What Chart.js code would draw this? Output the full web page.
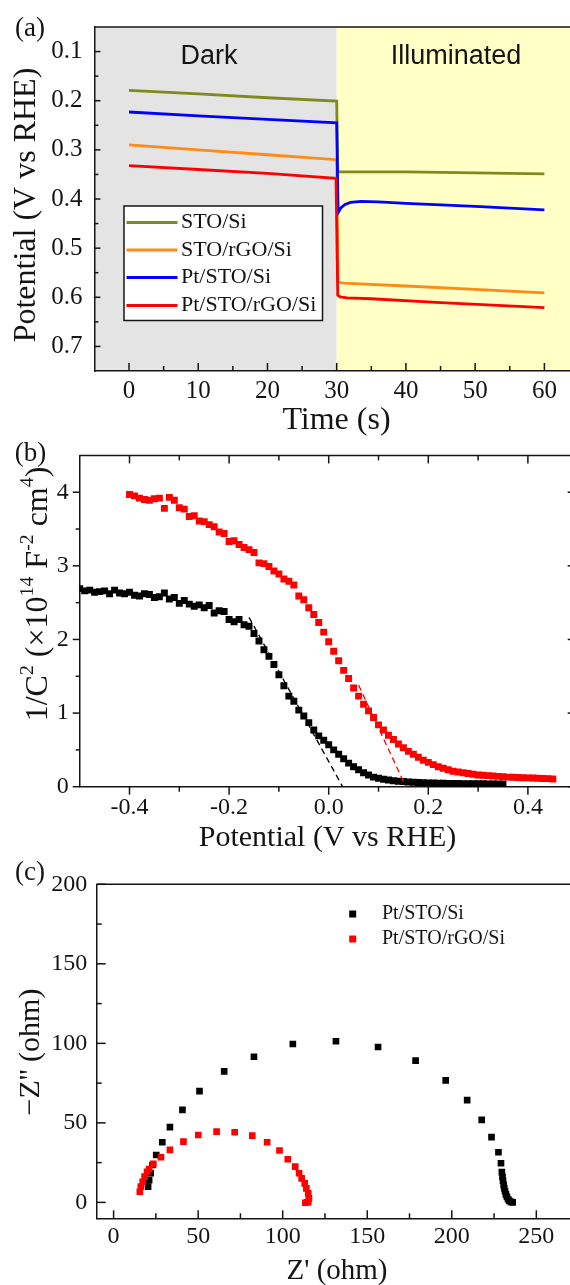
<!DOCTYPE html>
<html>
<head>
<meta charset="utf-8">
<title>Photo-potential, Mott-Schottky and Nyquist plots</title>
<script src="https://cdn.jsdelivr.net/npm/chart.js@4.4.1/dist/chart.umd.min.js"></script>
<style>
  html, body { margin: 0; padding: 0; background: #fff; width: 570px; height: 1285px; overflow: hidden; }
  .panel { position: absolute; left: 0; width: 600px; }
  #pa { top: 0; height: 445px; }
  #pb { top: 430px; height: 435px; }
  #pc { top: 850px; height: 435px; }
</style>
</head>
<body>
<div class="panel" id="pa"><canvas id="chartA"></canvas></div>
<div class="panel" id="pb"><canvas id="chartB"></canvas></div>
<div class="panel" id="pc"><canvas id="chartC"></canvas></div>
<script>
// ---- (a) open-circuit potential, dark (0-30 s) then illuminated ----
const stoSiTime = [0, 10, 20, 30.0, 30.15, 31, 40, 50, 60];
const stoSiPot = [0.179, 0.186, 0.194, 0.201, 0.345, 0.345, 0.345, 0.347, 0.349];
const stoRgoTime = [0, 10, 20, 30.0, 30.2, 31, 40, 50, 60];
const stoRgoPot = [0.290, 0.300, 0.310, 0.320, 0.569, 0.571, 0.577, 0.584, 0.591];
const ptStoTime = [0, 10, 20, 30.0, 30.2, 30.6, 31.2, 32, 33.5, 36, 40, 50, 60];
const ptStoPot = [0.223, 0.231, 0.238, 0.245, 0.428, 0.418, 0.411, 0.407, 0.405, 0.406, 0.409, 0.415, 0.422];
const ptStoRgoTime = [0, 10, 20, 29.9, 30.15, 30.5, 31.5, 35, 45, 60];
const ptStoRgoPot = [0.332, 0.340, 0.348, 0.358, 0.596, 0.599, 0.601, 0.603, 0.611, 0.621];
const timeTicks = [0, 10, 20, 30, 40, 50, 60];
const timeLabels = ['0', '10', '20', '30', '40', '50', '60'];
const potTicks = [0.1, 0.2, 0.3, 0.4, 0.5, 0.6, 0.7];
const potLabels = ['0.1', '0.2', '0.3', '0.4', '0.5', '0.6', '0.7'];
const seriesNamesA = ['STO/Si', 'STO/rGO/Si', 'Pt/STO/Si', 'Pt/STO/rGO/Si'];

// ---- (b) Mott-Schottky ----
const msBlackPot = [-0.50,-0.49,-0.48,-0.47,-0.46,-0.45,-0.44,-0.43,-0.42,-0.41,
  -0.40,-0.39,-0.38,-0.37,-0.36,-0.35,-0.34,-0.33,-0.32,-0.31,
  -0.30,-0.29,-0.28,-0.27,-0.26,-0.25,-0.24,-0.23,-0.22,-0.21,
  -0.20,-0.19,-0.18,-0.17,-0.16,-0.15,-0.14,-0.13,-0.12,-0.11,
  -0.10,-0.09,-0.08,-0.07,-0.06,-0.05,-0.04,-0.03,-0.02,-0.01,
  0.00,0.01,0.02,0.03,0.04,0.05,0.06,0.07,0.08,0.09,
  0.10,0.11,0.12,0.13,0.14,0.15,0.16,0.17,0.18,0.19,
  0.20,0.21,0.22,0.23,0.24,0.25,0.26,0.27,0.28,0.29,
  0.30,0.31,0.32,0.33,0.34,0.35];
const msBlackVal = [2.69,2.66,2.67,2.64,2.65,2.66,2.62,2.67,2.63,2.62,
  2.64,2.60,2.59,2.62,2.61,2.57,2.58,2.63,2.55,2.57,
  2.49,2.53,2.48,2.45,2.47,2.43,2.46,2.36,2.39,2.38,
  2.27,2.24,2.27,2.20,2.18,2.08,1.98,1.86,1.77,1.66,
  1.52,1.37,1.23,1.16,1.04,0.96,0.87,0.77,0.69,0.63,
  0.57,0.50,0.44,0.38,0.32,0.27,0.23,0.19,0.16,0.13,
  0.115,0.10,0.09,0.08,0.075,0.07,0.065,0.06,0.058,0.055,
  0.052,0.05,0.048,0.046,0.045,0.044,0.043,0.042,0.041,0.04,
  0.04,0.039,0.038,0.038,0.037,0.037];
const msRedPot = [-0.40,-0.39,-0.38,-0.37,-0.36,-0.35,-0.34,-0.33,-0.32,-0.31,
  -0.30,-0.29,-0.28,-0.27,-0.26,-0.25,-0.24,-0.23,-0.22,-0.21,
  -0.20,-0.19,-0.18,-0.17,-0.16,-0.15,-0.14,-0.13,-0.12,-0.11,
  -0.10,-0.09,-0.08,-0.07,-0.06,-0.05,-0.04,-0.03,-0.02,-0.01,
  0.00,0.01,0.02,0.03,0.04,0.05,0.06,0.07,0.08,0.09,
  0.10,0.11,0.12,0.13,0.14,0.15,0.16,0.17,0.18,0.19,
  0.20,0.21,0.22,0.23,0.24,0.25,0.26,0.27,0.28,0.29,
  0.30,0.31,0.32,0.33,0.34,0.35,0.36,0.37,0.38,0.39,
  0.40,0.41,0.42,0.43,0.44,0.45];
const msRedVal = [3.97,3.95,3.92,3.90,3.89,3.91,3.92,3.78,3.93,3.89,
  3.79,3.77,3.67,3.68,3.61,3.60,3.56,3.53,3.46,3.44,
  3.33,3.34,3.29,3.25,3.22,3.18,3.04,3.03,2.99,2.93,
  2.89,2.82,2.79,2.74,2.59,2.54,2.43,2.34,2.23,2.10,
  1.97,1.84,1.71,1.58,1.47,1.34,1.23,1.12,1.03,0.94,
  0.84,0.77,0.70,0.64,0.58,0.53,0.48,0.44,0.40,0.36,
  0.33,0.30,0.27,0.25,0.23,0.21,0.20,0.19,0.18,0.17,
  0.16,0.155,0.15,0.145,0.14,0.135,0.13,0.128,0.125,0.122,
  0.12,0.117,0.115,0.112,0.11,0.105];
const fitBlackPot = [-0.16, 0.028];
const fitBlackVal = [2.30, 0];
const fitRedPot = [0.06, 0.155];
const fitRedVal = [1.38, 0];
const msPotTicks = [-0.4, -0.2, 0, 0.2, 0.4];
const msPotLabels = ['-0.4', '-0.2', '0.0', '0.2', '0.4'];
const msValTicks = [0, 1, 2, 3, 4];
const msValLabels = ['0', '1', '2', '3', '4'];

// ---- (c) Nyquist ----
const nyqBlackRe = [20.4,21.0,21.9,23.0,25.2,28.8,33.3,40.7,50.8,65.4,83.0,106.0,131.5,156.4,178.6,196.4,209.1,
  217.7,223.5,227.6,229.1,229.6,230.0,230.3,230.7,231.0,231.5,232.0,232.6,233.3,234.0,235.0,236.0];
const nyqBlackIm = [9.9,14.0,18.3,23.5,29.8,37.8,47.3,58.2,70.0,82.4,91.6,99.6,101.3,97.7,89.1,76.7,64.3,
  51.9,41.0,31.5,24.6,19.0,16.0,13.5,11.0,9.0,7.0,5.0,3.5,2.0,1.0,0.3,0.0];
const nyqRedRe = [15.5,16.1,17.2,18.3,19.8,21.0,23.5,28.0,33.3,41.3,50.1,60.9,71.6,82.0,90.8,98.1,103.0,
  107.4,109.7,111.2,113.0,114.0,115.1,115.5,115.1,114.5,113.4];
const nyqRedIm = [6.7,9.9,13.0,16.2,19.3,21.0,24.2,28.4,33.0,38.2,42.4,44.5,44.1,42.0,37.8,32.6,27.1,
  22.5,18.3,15.1,12.0,8.8,5.7,2.5,0.4,0.0,-0.2];
const reTicks = [0, 50, 100, 150, 200, 250];
const reLabels = ['0', '50', '100', '150', '200', '250'];
const imTicks = [0, 50, 100, 150, 200];
const imLabels = ['0', '50', '100', '150', '200'];
const seriesNamesBC = ['Pt/STO/Si', 'Pt/STO/rGO/Si'];

const SERIF = "'Liberation Serif', 'Times New Roman', serif";
const SANS = "'Liberation Sans', Arial, sans-serif";
const INK = '#141414';
const colorsA = ['#7e8a1c', '#ff8a16', '#0000ff', '#ff0000'];

Chart.defaults.font.family = SERIF;
Chart.defaults.color = INK;

const pts = (xs, ys) => xs.map((x, i) => ({x: x, y: ys[i]}));

function axis(min, max, vals, labels, size, pad, fit, horizontal, reverse) {
  return {
    type: 'linear', min: min, max: max, reverse: !!reverse,
    afterBuildTicks: s => { s.ticks = vals.map(v => ({value: v})); },
    afterFit: s => { if (horizontal) s.height = fit; else s.width = fit; },
    ticks: {autoSkip: false, maxRotation: 0, padding: pad, color: INK,
      font: {size: size, family: SERIF}, callback: v => labels[vals.indexOf(v)]},
    grid: {display: false, drawTicks: false},
    border: {display: true, color: INK, width: 1.5}
  };
}

function txt(ctx, s, x, y, size, family, rot, align) {
  ctx.save();
  ctx.font = size + 'px ' + (family || SERIF);
  ctx.fillStyle = INK;
  ctx.textAlign = align || 'center';
  ctx.textBaseline = 'middle';
  ctx.translate(x, y);
  if (rot) ctx.rotate(rot);
  ctx.fillText(s, 0, 0);
  ctx.restore();
}

// text with superscripts, centred on (x, y)
function richTxt(ctx, parts, x, y, size, rot) {
  ctx.save();
  ctx.translate(x, y);
  if (rot) ctx.rotate(rot);
  ctx.fillStyle = INK;
  ctx.textBaseline = 'alphabetic';
  ctx.textAlign = 'left';
  const fontOf = p => (p.sup ? size * 0.62 : size) + 'px ' + SERIF;
  const widths = parts.map(p => { ctx.font = fontOf(p); return ctx.measureText(p.t).width; });
  let cx = -widths.reduce((a, b) => a + b, 0) / 2;
  parts.forEach((p, i) => {
    ctx.font = fontOf(p);
    ctx.fillText(p.t, cx, size * 0.34 - (p.sup ? size * 0.42 : 0));
    cx += widths[i];
  });
  ctx.restore();
}

// tick marks and extra frame lines, drawn from the chart's own scales
function drawFrame(chart, spec) {
  const {ctx, chartArea: a, scales} = chart;
  ctx.save();
  ctx.strokeStyle = INK;
  ctx.lineWidth = 1.5;
  (spec.lines || []).forEach(side => {
    ctx.beginPath();
    if (side === 'top') { ctx.moveTo(a.left, a.top); ctx.lineTo(a.right, a.top); }
    if (side === 'right') { ctx.moveTo(a.right, a.top); ctx.lineTo(a.right, a.bottom); }
    ctx.stroke();
  });
  spec.ticks.forEach(t => {
    const horiz = t.side === 'top' || t.side === 'bottom';
    const s = horiz ? scales.x : scales.y;
    [[t.major, t.len[0]], [t.minor, t.len[1]]].forEach(([list, len]) => list.forEach(v => {
      const p = s.getPixelForValue(v);
      const base = {top: a.top, bottom: a.bottom, left: a.left, right: a.right}[t.side];
      const inward = (t.side === 'top' || t.side === 'left') ? 1 : -1;
      const d = (t.dir === 'in' ? inward : -inward) * len;
      ctx.beginPath();
      if (horiz) { ctx.moveTo(p, base); ctx.lineTo(p, base + d); }
      else { ctx.moveTo(base, p); ctx.lineTo(base + d, p); }
      ctx.stroke();
    }));
  });
  ctx.restore();
}

function squareLegend(ctx, chart, x, ys, textX) {
  chart.data.datasets.filter(d => d.pointStyle === 'rect').forEach((d, i) => {
    ctx.fillStyle = d.backgroundColor;
    ctx.fillRect(x - 3.5, ys[i] - 3.5, 7, 7);
    txt(ctx, d.label, textX, ys[i], 20, SERIF, 0, 'left');
  });
}

const base = {
  responsive: true, maintainAspectRatio: false, animation: false, events: [],
  devicePixelRatio: 1,
  plugins: {legend: {display: false}, tooltip: {enabled: false}}
};

// ---------- chart (a) ----------
const potA = [[stoSiTime, stoSiPot], [stoRgoTime, stoRgoPot], [ptStoTime, ptStoPot], [ptStoRgoTime, ptStoRgoPot]];
new Chart(document.getElementById('chartA'), {
  type: 'scatter',
  data: {
    datasets: potA.map((s, i) => ({
      label: seriesNamesA[i], data: pts(s[0], s[1]), showLine: true, pointRadius: 0,
      borderColor: colorsA[i], borderWidth: 2.8, tension: 0, order: 3 - i
    }))
  },
  options: Object.assign({}, base, {
    layout: {padding: {top: 16, right: 21, left: 0, bottom: 0}},
    scales: {
      x: axis(-5, 65, timeTicks, timeLabels, 25, 5, 74, true),
      y: axis(0.05, 0.75, potTicks, potLabels, 25, 12, 94.4, false, true)
    }
  }),
  plugins: [{
    id: 'decorA',
    beforeDraw(chart) {
      const {ctx, chartArea: a, scales: {x}} = chart;
      const split = x.getPixelForValue(30);
      ctx.save();
      ctx.fillStyle = '#e4e4e4';
      ctx.fillRect(a.left, a.top, split - a.left, a.bottom - a.top);
      ctx.fillStyle = '#ffffc6';
      ctx.fillRect(split, a.top, a.right - split, a.bottom - a.top);
      ctx.restore();
    },
    afterDraw(chart) {
      const ctx = chart.ctx;
      drawFrame(chart, {
        lines: ['top'],
        ticks: [
          {side: 'left', dir: 'in', major: potTicks, minor: [0.15, 0.25, 0.35, 0.45, 0.55, 0.65], len: [6, 4]},
          {side: 'bottom', dir: 'in', major: timeTicks, minor: [5, 15, 25, 35, 45, 55], len: [8, 5]}
        ]
      });
      txt(ctx, 'Dark', 209, 57, 27, SANS);
      txt(ctx, 'Illuminated', 456, 57, 27, SANS);
      // legend box
      ctx.save();
      ctx.fillStyle = '#fff';
      ctx.fillRect(124, 206, 198.5, 114.5);
      ctx.strokeStyle = INK;
      ctx.lineWidth = 1.5;
      ctx.strokeRect(124, 206, 198.5, 114.5);
      const rows = [222.5, 250, 277.5, 305.5];
      chart.data.datasets.forEach((d, i) => {
        ctx.strokeStyle = d.borderColor;
        ctx.lineWidth = 2.8;
        ctx.beginPath();
        ctx.moveTo(126.5, rows[i]);
        ctx.lineTo(177.5, rows[i]);
        ctx.stroke();
        txt(ctx, d.label, 181, rows[i], 22, SERIF, 0, 'left');
      });
      ctx.restore();
      txt(ctx, '(a)', 30, 29, 27);
      txt(ctx, 'Time (s)', 336.5, 421, 32);
      txt(ctx, 'Potential (V vs RHE)', 27, 205, 32, SERIF, -Math.PI / 2);
    }
  }]
});

// ---------- chart (b) ----------
new Chart(document.getElementById('chartB'), {
  type: 'scatter',
  data: {
    datasets: [
      {label: 'fit', data: pts(fitBlackPot, fitBlackVal), showLine: true, pointRadius: 0,
        borderColor: '#000', borderWidth: 1.3, borderDash: [6, 4], order: 0},
      {label: 'fit', data: pts(fitRedPot, fitRedVal), showLine: true, pointRadius: 0,
        borderColor: '#ff0000', borderWidth: 1.3, borderDash: [6, 4], order: 0},
      {label: seriesNamesBC[0], data: pts(msBlackPot, msBlackVal), pointStyle: 'rect',
        pointRadius: 4.9, borderWidth: 0, backgroundColor: '#000', order: 2},
      {label: seriesNamesBC[1], data: pts(msRedPot, msRedVal), pointStyle: 'rect',
        pointRadius: 4.9, borderWidth: 0, backgroundColor: '#ff0000', order: 1}
    ]
  },
  options: Object.assign({}, base, {
    layout: {padding: {top: 14.3, right: 22.3, left: 0, bottom: 0}},
    scales: {
      x: axis(-0.5, 0.5, msPotTicks, msPotLabels, 24, 7, 78.3, true),
      y: axis(0, 4.5, msValTicks, msValLabels, 24, 11, 79.7, false)
    }
  }),
  plugins: [{
    id: 'decorB',
    afterDraw(chart) {
      const ctx = chart.ctx;
      const minorX = [-0.3, -0.1, 0.1, 0.3];
      const minorY = [0.5, 1.5, 2.5, 3.5];
      drawFrame(chart, {
        lines: ['top', 'right'],
        ticks: [
          {side: 'left', dir: 'out', major: msValTicks, minor: minorY, len: [7, 4]},
          {side: 'right', dir: 'in', major: msValTicks, minor: minorY, len: [10, 6]},
          {side: 'bottom', dir: 'out', major: msPotTicks, minor: minorX, len: [8, 5]},
          {side: 'top', dir: 'in', major: msPotTicks, minor: minorX, len: [8, 5]}
        ]
      });
      squareLegend(ctx, chart, 398.3, [501.7, 527], 426);
      txt(ctx, '(b)', 30.5, 24, 27);
      txt(ctx, 'Potential (V vs RHE)', 327.5, 408, 30);
      richTxt(ctx, [{t: '1/C'}, {t: '2', sup: 1}, {t: ' (\u00d710'}, {t: '14', sup: 1}, {t: ' F'},
        {t: '-2', sup: 1}, {t: ' cm'}, {t: '4', sup: 1}, {t: ')'}], 36, 164, 32, -Math.PI / 2);
    }
  }]
});

// ---------- chart (c) ----------
new Chart(document.getElementById('chartC'), {
  type: 'scatter',
  data: {
    datasets: [
      {label: seriesNamesBC[0], data: pts(nyqBlackRe, nyqBlackIm), pointStyle: 'rect',
        pointRadius: 4.7, borderWidth: 0, backgroundColor: '#000', order: 2},
      {label: seriesNamesBC[1], data: pts(nyqRedRe, nyqRedIm), pointStyle: 'rect',
        pointRadius: 4.7, borderWidth: 0, backgroundColor: '#ff0000', order: 1}
    ]
  },
  options: Object.assign({}, base, {
    layout: {padding: {top: 34.3, right: 21.4, left: 0, bottom: 0}},
    scales: {
      x: axis(-10, 275, reTicks, reLabels, 24, 4, 66.7, true),
      y: axis(-10, 200, imTicks, imLabels, 24, 9.5, 96.7, false)
    }
  }),
  plugins: [{
    id: 'decorC',
    afterDraw(chart) {
      const ctx = chart.ctx;
      drawFrame(chart, {
        lines: ['top', 'right'],
        ticks: [
          {side: 'left', dir: 'in', major: imTicks, minor: [25, 75, 125, 175], len: [9, 5]},
          {side: 'bottom', dir: 'in', major: reTicks, minor: [25, 75, 125, 175, 225], len: [8, 5]}
        ]
      });
      squareLegend(ctx, chart, 352.7, [64, 89], 382);
      txt(ctx, '(c)', 30, 22.5, 27);
      txt(ctx, "Z' (ohm)", 337, 421.5, 29);
      txt(ctx, "\u2212Z'' (ohm)", 31, 202, 30, SERIF, -Math.PI / 2);
    }
  }]
});
</script>
</body>
</html>
